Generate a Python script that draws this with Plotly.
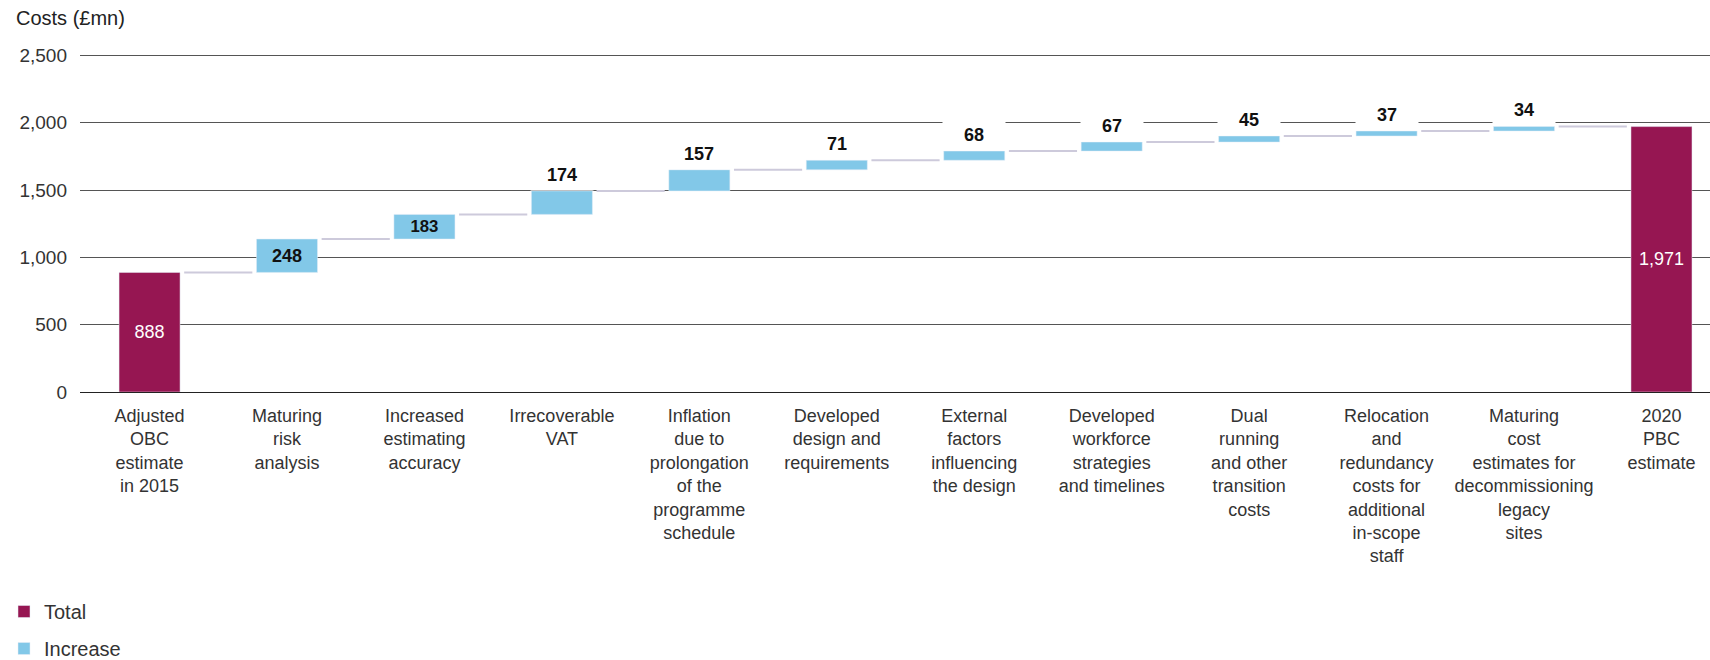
import plotly.graph_objects as go

categories = [
    "Adjusted<br>OBC<br>estimate<br>in 2015",
    "Maturing<br>risk<br>analysis",
    "Increased<br>estimating<br>accuracy",
    "Irrecoverable<br>VAT",
    "Inflation<br>due to<br>prolongation<br>of the<br>programme<br>schedule",
    "Developed<br>design and<br>requirements",
    "External<br>factors<br>influencing<br>the design",
    "Developed<br>workforce<br>strategies<br>and timelines",
    "Dual<br>running<br>and other<br>transition<br>costs",
    "Relocation<br>and<br>redundancy<br>costs for<br>additional<br>in-scope<br>staff",
    "Maturing<br>cost<br>estimates for<br>decommissioning<br>legacy<br>sites",
    "2020<br>PBC<br>estimate",
]
kinds = ["total"] + ["increase"] * 10 + ["total"]
values = [888, 248, 183, 174, 157, 71, 68, 67, 45, 37, 34, 1971]
y_ticks = [0, 500, 1000, 1500, 2000, 2500]
y_ticktext = ["0", "500", "1,000", "1,500", "2,000", "2,500"]

TOTAL_C = "#961652"
INC_C = "#82C8E8"
FONT = "Liberation Sans"
BAR_W = 0.444

# compute bases
bases, tops = [], []
running = 0
for k, v in zip(kinds, values):
    if k == "total":
        bases.append(0)
        running = v
    else:
        bases.append(running)
        running += v
    tops.append(bases[-1] + v)

xs = list(range(len(categories)))
fig = go.Figure()

tot_idx = [i for i, k in enumerate(kinds) if k == "total"]
inc_idx = [i for i, k in enumerate(kinds) if k == "increase"]

fig.add_trace(go.Bar(
    x=[xs[i] for i in tot_idx], y=[values[i] for i in tot_idx],
    base=[bases[i] for i in tot_idx], width=BAR_W, marker_color=TOTAL_C,
    name="Total", legendgroup="t",
    text=[f"{values[i]:,}" for i in tot_idx], textposition="inside",
    insidetextanchor="middle", textangle=0,
    textfont=dict(family=FONT, size=18, color="white"),
    hoverinfo="skip",
))

# connectors
cx, cy = [], []
gap = 0.03
for i in range(len(xs) - 1):
    cx += [xs[i] + BAR_W / 2 + gap, xs[i + 1] - BAR_W / 2 - gap, None]
    cy += [tops[i], tops[i], None]
fig.add_trace(go.Scatter(x=cx, y=cy, mode="lines",
                         line=dict(color="#cdcadb", width=2),
                         showlegend=False, hoverinfo="skip"))

inside = [values[i] >= 180 for i in inc_idx]
fig.add_trace(go.Bar(
    x=[xs[i] for i in inc_idx], y=[values[i] for i in inc_idx],
    base=[bases[i] for i in inc_idx], width=BAR_W, marker_color=INC_C,
    name="Increase", legendgroup="i",
    text=[f"{values[i]:,}" if ins else "" for i, ins in zip(inc_idx, inside)],
    textposition="inside", insidetextanchor="middle", textangle=0,
    textfont=dict(family=FONT, size=18, color="#111", weight="bold"),
    hoverinfo="skip",
))

annotations = []
for i, ins in zip(inc_idx, inside):
    if not ins:
        annotations.append(dict(
            x=xs[i], y=tops[i], xref="x", yref="y", text=f"<b>{values[i]:,}</b>",
            showarrow=False, yanchor="bottom", xanchor="center",
            bgcolor="white", width=60, height=28,
            font=dict(family=FONT, size=18, color="#111"),
        ))
annotations.append(dict(
    x=-66 / 1630, y=(392 - 18) / 338, xref="paper", yref="paper",
    text="Costs (£mn)", showarrow=False, xanchor="left", yanchor="middle",
    font=dict(family=FONT, size=20, color="#222"),
))

fig.update_layout(
    width=1710, height=660,
    margin=dict(l=80, r=0, t=54, b=268, autoexpand=False),
    plot_bgcolor="white", paper_bgcolor="white",
    font=dict(family=FONT, size=18, color="#333"),
    barmode="overlay",
    showlegend=True,
    legend=dict(
        xref="container", yref="container", x=4 / 1710, y=1 - 592 / 660,
        xanchor="left", yanchor="top", traceorder="grouped", tracegroupgap=8,
        font=dict(family=FONT, size=20, color="#333"),
    ),
    annotations=annotations,
    xaxis=dict(
        tickmode="array", tickvals=xs, ticktext=categories,
        range=[-0.506, 11.353], showgrid=False, zeroline=False,
        tickfont=dict(family=FONT, size=18, color="#333"), ticks="",
        ticklabelstandoff=11, automargin=False,
    ),
    yaxis=dict(
        range=[0, 2510], tickmode="array", tickvals=y_ticks, ticktext=y_ticktext,
        showgrid=True, gridcolor="#555", gridwidth=1,
        zeroline=True, zerolinecolor="#222", zerolinewidth=1,
        tickfont=dict(family=FONT, size=19, color="#333"), ticks="",
        ticklabelstandoff=12, automargin=False,
    ),
)

fig.write_html("out.html")
